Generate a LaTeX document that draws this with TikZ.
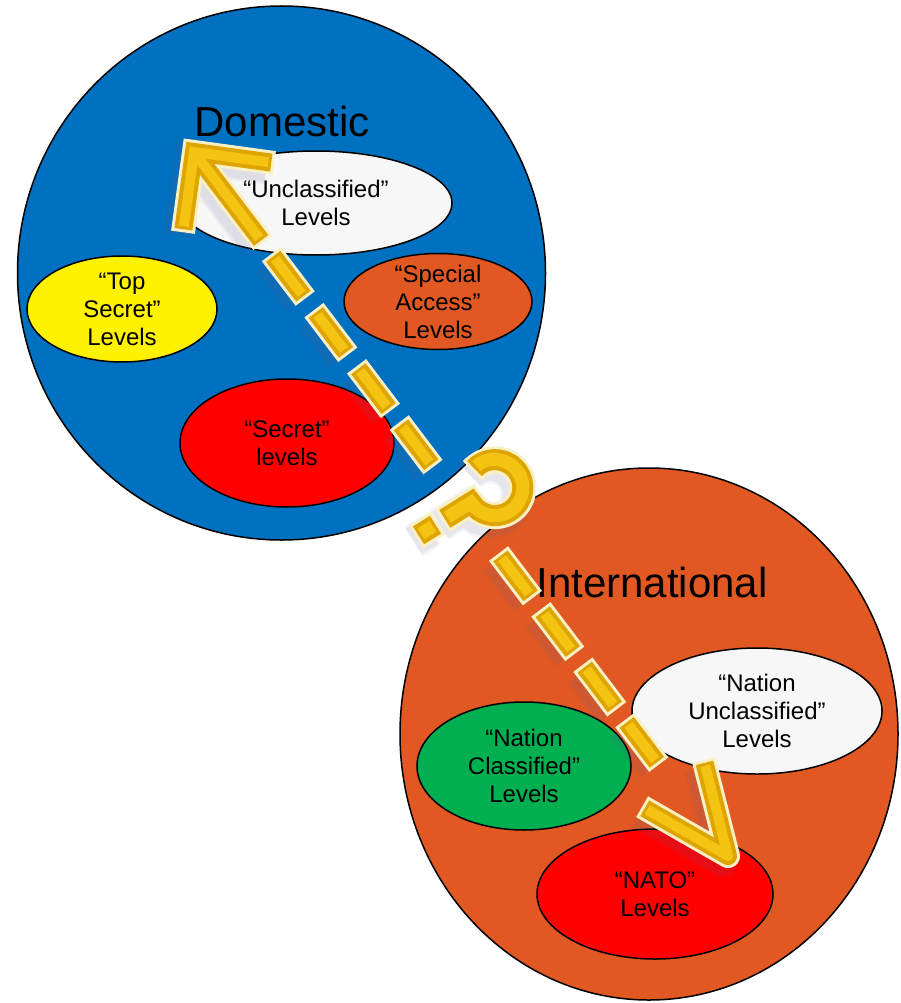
\documentclass[tikz,border=0pt]{standalone}
\usepackage{fontspec}
\setmainfont{Liberation Sans}
\definecolor{domblue}{RGB}{0,112,192}
\definecolor{intorange}{RGB}{226,88,34}
\definecolor{offwhite}{RGB}{247,247,247}
\definecolor{natgreen}{RGB}{0,176,80}
\definecolor{goldA}{RGB}{222,165,0}
\definecolor{goldB}{RGB}{245,195,18}
\definecolor{creamedge}{RGB}{250,240,198}
\definecolor{shadowc}{RGB}{100,90,140}
% #1 = style of the arrow strokes, #2 = line width of the question mark
\newcommand{\arrowpaths}[2]{%
  \draw[#1] ([shift={(194,152)}]97.82:78) -- (194,152) -- ++(7.82:78);
  \draw[#1] (194,152) -- ++(52.82:111);
  \foreach \a in {131,201.5,272,342.5,507,577,646.5,716}{%
    \draw[#1] ([shift={(194,152)}]52.82:\a) -- ++(52.82:50);}
  \draw[#1,line join=round] ([shift={(728,856)}]255.82:96) -- (728,856) -- ++(209.82:96);
  \begin{scope}[shift={(427,530)},x=1pt,y=1pt,rotate=-58]
    \draw[#1,line width=#2] ([shift={(0,80)}]195:28) arc[start angle=195,end angle=-90,radius=28] -- (0,21);
    \draw[#1,line width=#2] (0,-10) -- (0,10);
  \end{scope}}
\tikzset{
  zone/.style={draw=black, line width=1.5pt},
  lbl/.style={font=\fontsize{24}{28}\selectfont, align=center, inner sep=0pt, text=black},
  title/.style={font=\fontsize{42}{50}\selectfont, anchor=base, inner sep=0pt, text=black}
}
\begin{document}
\begin{tikzpicture}[x=1pt,y=-1pt]
\useasboundingbox (0,0) rectangle (901,1003);
\fill[white] (0,0) rectangle (901,1003);
% Domestic
\path[zone, fill=domblue] (281.5,273) ellipse [x radius=264, y radius=267];
\node[title] (dom) at (282,137) {Domestic};
\path[zone, fill=offwhite] (316,203) ellipse [x radius=136, y radius=52];
\node[lbl] (uncl) at (316,203) {“Unclassified”\\Levels};
\path[zone, fill=yellow] (122,309) ellipse [x radius=95, y radius=53];
\node[lbl] (ts) at (122,309) {“Top\\Secret”\\Levels};
\path[zone, fill=intorange] (438,301.5) ellipse [x radius=94, y radius=48];
\node[lbl] (sa) at (438,301.5) {“Special\\Access”\\Levels};
\path[zone, fill=red] (287,443) ellipse [x radius=107, y radius=64];
\node[lbl] (sec) at (287,443) {“Secret”\\levels};
% International
\path[zone, fill=intorange] (649,734) ellipse [x radius=249, y radius=266];
\node[title] (intl) at (652,597) {International};
\path[zone, fill=offwhite] (757,711) ellipse [x radius=125, y radius=63];
\node[lbl] (nu) at (757,711) {“Nation\\Unclassified”\\Levels};
\path[zone, fill=natgreen] (524,766) ellipse [x radius=107, y radius=64];
\node[lbl] (nc) at (524,766) {“Nation\\Classified”\\Levels};
\path[zone, fill=red] (655,894) ellipse [x radius=118, y radius=65];
\node[lbl] (nato) at (655,894) {“NATO”\\Levels};
% arrow with question mark
\begin{scope}[shift={(-5,6)}]
  \arrowpaths{draw=shadowc, line width=32pt, opacity=0.07}{35pt}
  \arrowpaths{draw=shadowc, line width=27pt, opacity=0.09}{30pt}
\end{scope}
\arrowpaths{draw=creamedge, line width=24pt, shorten <=-3pt, shorten >=-3pt}{27pt}
\arrowpaths{draw=goldA, line width=18pt}{21pt}
\arrowpaths{draw=goldB, line width=10pt, shorten <=3pt, shorten >=3pt}{13pt}
\end{tikzpicture}
\end{document}
